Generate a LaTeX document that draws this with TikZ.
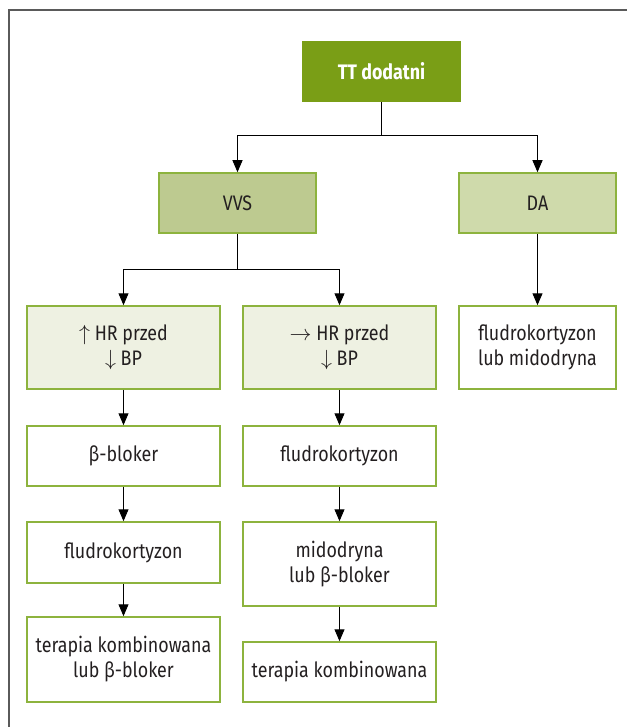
\documentclass[tikz,border=0pt]{standalone}
\usepackage{fontspec}
\setmainfont[FakeStretch=0.85]{Fira Sans}
\usetikzlibrary{arrows.meta}

\definecolor{ttgreen}{HTML}{7A9E16}
\definecolor{vvsfill}{HTML}{BDCA90}
\definecolor{dafill}{HTML}{CFDAAB}
\definecolor{hrfill}{HTML}{EEF1E2}
\definecolor{boxline}{HTML}{8DB33E}
\definecolor{framegray}{HTML}{5A5A5A}
\definecolor{textdark}{HTML}{231F20}

\begin{document}
\begin{tikzpicture}[x=0.5pt, y=-0.5pt,
        box/.style={draw=boxline, line width=0.75pt, inner sep=0pt, align=center,
            text=textdark, font=\fontsize{10.5}{12.5}\selectfont, minimum height=30pt},
        midbox/.style={box, minimum width=78.5pt},
        widebox/.style={box, minimum width=96.5pt},
        line/.style={line width=0.5pt},
        arr/.style={line, -{Triangle[length=6pt,width=5pt]}}]
        \useasboundingbox (0,0) rectangle (627,727);

        % Frame
        \draw [framegray, line width=1pt] (9,727) -- (9,10) -- (627,10);

        % Top and second row
        \node [midbox, fill=ttgreen, draw=ttgreen, text=white, font=\fontsize{10.5}{12.5}\selectfont\bfseries] (tt) at (381.5,71.5) {TT dodatni};
        \node [midbox, fill=vvsfill] (vvs) at (237.5,203) {VVS};
        \node [midbox, fill=dafill] (da) at (537.5,203) {DA};
        \coordinate (split1) at (381.5,136);
        \coordinate (split2) at (237.5,269);

        % Third row
        \node [widebox, fill=hrfill, minimum height=41.5pt] (hrup) at (123.5,347.5) {$\uparrow$ HR przed\\$\downarrow$ BP};
        \node [widebox, fill=hrfill, minimum height=41.5pt] (hrflat) at (339.5,347.5) {$\rightarrow$ HR przed\\$\downarrow$ BP};
        \node [midbox, minimum height=41.5pt] (fmid) at (537.5,347.5) {fludrokortyzon\\lub midodryna};

        % Left column
        \node [widebox] (bbl) at (123.5,456) {β-bloker};
        \node [widebox, minimum height=30.5pt] (fll) at (123.5,552.5) {fludrokortyzon};
        \node [widebox, minimum height=42.5pt] (tkl) at (123.5,659.5) {terapia kombinowana\\lub β-bloker};

        % Right column
        \node [widebox] (flr) at (339.5,456) {fludrokortyzon};
        \node [widebox, minimum height=42pt] (mdr) at (339.5,564) {midodryna\\lub β-bloker};
        \node [widebox] (tkr) at (339.5,672) {terapia kombinowana};

        % Connectors
        \draw [line] (tt) -- (split1);
        \draw [arr] (split1) -| (vvs);
        \draw [arr] (split1) -| (da);
        \draw [line] (vvs) -- (split2);
        \draw [arr] (split2) -| (hrup);
        \draw [arr] (split2) -| (hrflat);
        \draw [arr] (da) -- (fmid);
        \draw [arr] (hrup) -- (bbl);
        \draw [arr] (bbl) -- (fll);
        \draw [arr] (fll) -- (tkl);
        \draw [arr] (hrflat) -- (flr);
        \draw [arr] (flr) -- (mdr);
        \draw [arr] (mdr) -- (tkr);
    \end{tikzpicture}
\end{document}
